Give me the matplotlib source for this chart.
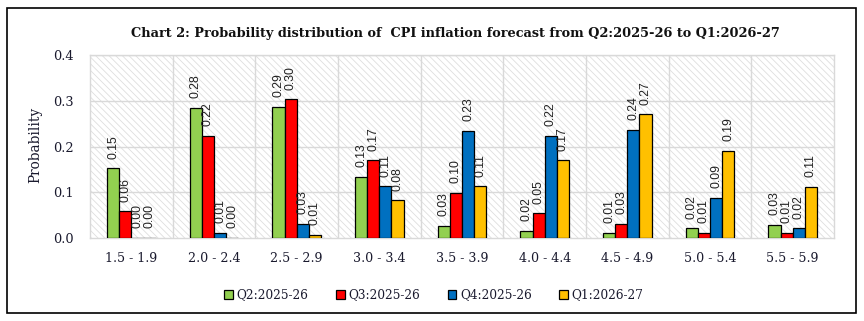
import matplotlib
matplotlib.use("Agg")
import matplotlib.pyplot as plt
from matplotlib.patches import Rectangle
import numpy as np

# Inflation ranges (per cent) and probabilities for each quarter
ranges = ["1.5 - 1.9", "2.0 - 2.4", "2.5 - 2.9", "3.0 - 3.4", "3.5 - 3.9",
          "4.0 - 4.4", "4.5 - 4.9", "5.0 - 5.4", "5.5 - 5.9"]
quarters = ["Q2:2025-26", "Q3:2025-26", "Q4:2025-26", "Q1:2026-27"]
q2_2025_26 = [0.152, 0.284, 0.286, 0.133, 0.026, 0.016, 0.012, 0.021, 0.028]
q3_2025_26 = [0.058, 0.224, 0.303, 0.170, 0.098, 0.054, 0.031, 0.012, 0.012]
q4_2025_26 = [0.001, 0.011, 0.031, 0.113, 0.234, 0.224, 0.236, 0.087, 0.021]
q1_2026_27 = [0.001, 0.001, 0.007, 0.082, 0.113, 0.170, 0.270, 0.190, 0.111]
y_ticks = [0.0, 0.1, 0.2, 0.3, 0.4]

series = [q2_2025_26, q3_2025_26, q4_2025_26, q1_2026_27]
colors = ["#92D050", "#FF0000", "#0070C0", "#FFC000"]

serif = ["DejaVu Serif"]
sans = ["Liberation Sans", "DejaVu Sans"]
text_col = "#1a1a2e"

fig = plt.figure(figsize=(8.64, 3.21), dpi=100)
ax = fig.add_axes([90 / 864, 83 / 321, 744 / 864, 183 / 321])

# outer frame around the whole chart
fig.patches.append(Rectangle((7 / 864, 8 / 321), 849 / 864, 305 / 321,
                             transform=fig.transFigure, fill=False,
                             edgecolor="black", linewidth=1.2, zorder=10))

n = len(ranges)
x = np.arange(n)
width = 0.147
offsets = (np.arange(4) - 1.5) * width

ax.set_xlim(-0.5, n - 0.5)
ax.set_ylim(0, 0.4)

# hatched plot-area background
plt.rcParams["hatch.linewidth"] = 0.6
bg = Rectangle((0, 0), 1, 1, transform=ax.transAxes, facecolor="white",
               edgecolor="#DEDEDE", hatch="\\" * 5, linewidth=0, zorder=0)
ax.add_patch(bg)

# grid lines
for yv in y_ticks[1:]:
    ax.axhline(yv, color="#D9D9D9", linewidth=1.0, zorder=1)
for xb in np.arange(0.5, n - 0.5, 1.0):
    ax.axvline(xb, color="#D9D9D9", linewidth=1.0, zorder=1)

for vals, col, off, name in zip(series, colors, offsets, quarters):
    bars = ax.bar(x + off, vals, width=width, color=col, edgecolor="black",
                  linewidth=0.9, zorder=3, label=name)
    for b, v in zip(bars, vals):
        ax.annotate(f"{v:.2f}", (b.get_x() + b.get_width() / 2, v),
                    xytext=(0, 7), textcoords="offset points",
                    rotation=90, ha="center", va="bottom",
                    fontsize=8.8, family=sans, color="#222222", zorder=4)

for s in ax.spines.values():
    s.set_color("#D9D9D9")
    s.set_linewidth(1.0)

ax.set_yticks(y_ticks)
ax.set_yticklabels([f"{v:.1f}" for v in y_ticks], family=serif, fontsize=9.3,
                   color=text_col)
ax.set_xticks(x)
ax.set_xticklabels(ranges, family=serif, fontsize=9.1, color=text_col)
ax.tick_params(axis="y", length=0, pad=12)
ax.tick_params(axis="x", length=0, pad=10)

fig.text(35 / 864, 0.55, "Probability", rotation=90, ha="center", va="center",
         family=serif, fontsize=9.8, color=text_col)

fig.text(455 / 864, (321 - 34) / 321,
         "Chart 2: Probability distribution of  CPI inflation forecast from Q2:2025-26 to Q1:2026-27",
         ha="center", va="center", family=serif, fontweight="bold",
         fontsize=9.3, color="#111111")

leg = fig.legend(loc="center", bbox_to_anchor=(434 / 864, (321 - 295) / 321),
                 ncol=4, frameon=False, prop={"family": serif, "size": 8.7},
                 handlelength=0.7, handleheight=0.7, handletextpad=0.3,
                 columnspacing=2.3)
for t in leg.get_texts():
    t.set_color(text_col)

fig.savefig("out.png", dpi=100)
